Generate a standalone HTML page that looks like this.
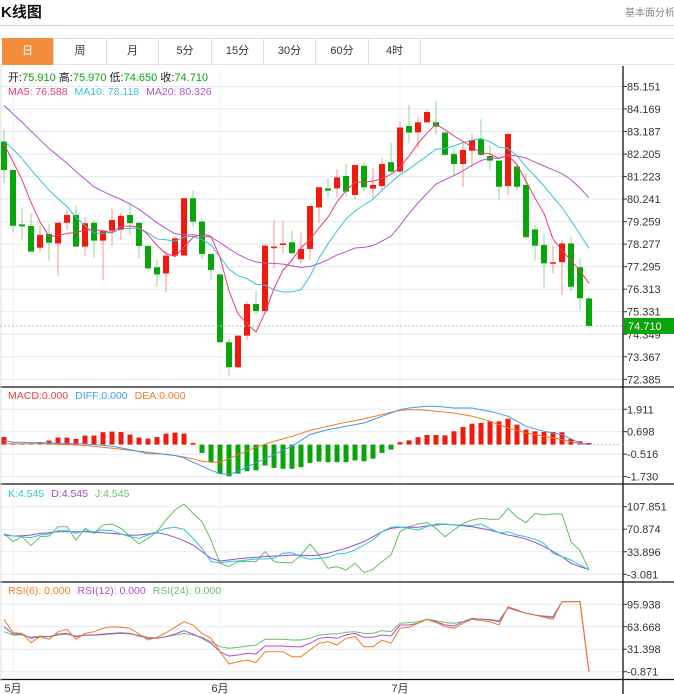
<!DOCTYPE html>
<html><head><meta charset="utf-8"><style>
body{margin:0;background:#fff;width:674px;height:694px;overflow:hidden;position:relative;font-family:"Liberation Sans","Noto Sans CJK SC",sans-serif}
.abs{position:absolute}
.tab{position:absolute;top:38px;height:27px;line-height:27px;text-align:center;font-size:11px;color:#333;border-right:1px solid #ddd;box-sizing:border-box}
</style></head><body>
<div class="abs" style="left:1px;top:1px;font-size:15px;font-weight:bold;color:#111">K线图</div>
<div class="abs" style="left:625px;top:4px;font-size:10px;color:#888;white-space:nowrap;width:49px;overflow:hidden">基本面分析&gt;</div>
<div class="abs" style="left:0;top:25px;width:674px;height:1px;background:#ccc"></div>
<div class="abs" style="left:0;top:38px;width:674px;height:27px;border-top:1px solid #ddd;border-bottom:1px solid #e4e4e4;box-sizing:border-box"></div>
<div class="tab" style="left:2px;width:52px;background:#f38d3e;color:#fff">日</div>
<div class="tab" style="left:54px;width:53px">周</div>
<div class="tab" style="left:107px;width:52px">月</div>
<div class="tab" style="left:159px;width:53px">5分</div>
<div class="tab" style="left:212px;width:52px">15分</div>
<div class="tab" style="left:264px;width:52px">30分</div>
<div class="tab" style="left:316px;width:53px">60分</div>
<div class="tab" style="left:369px;width:52px">4时</div>
<svg id="chart" class="abs" style="left:0;top:0" width="674" height="694"></svg>
<script>
const opens=[82.75,81.51,79.14,79.07,78.12,78.72,78.31,79.21,79.55,78.17,79.21,78.43,78.87,78.9,79.55,79.21,78.2,77.27,77.0,77.78,77.78,80.28,79.26,77.85,76.96,74.0,72.91,74.29,75.67,75.36,78.1,78.24,78.36,77.62,78.07,79.88,80.71,80.71,81.25,80.42,81.69,80.70,80.81,81.85,81.44,83.43,83.15,83.59,83.59,83.14,82.21,81.77,82.35,82.85,82.12,81.92,80.81,81.66,80.86,78.92,78.24,77.44,77.49,78.31,77.27,75.91];
const closes=[81.51,79.08,79.05,77.95,78.68,78.34,79.21,79.55,78.17,79.19,78.43,78.87,79.33,79.51,79.19,78.2,77.22,76.96,77.78,78.53,80.28,79.26,77.85,77.15,74.0,72.91,74.29,75.67,75.36,78.21,78.17,78.31,77.88,78.07,79.94,80.76,80.61,81.19,80.57,81.73,80.76,80.86,81.77,81.44,83.36,83.14,83.59,84.04,83.40,82.17,81.77,82.38,82.82,82.17,81.92,80.78,83.08,80.78,78.58,78.21,77.44,77.49,78.31,76.42,75.92,74.71];
const highs=[83.28,81.51,79.88,79.62,79.07,79.16,79.26,79.77,79.94,79.45,79.36,78.9,79.84,79.65,80.09,79.21,78.2,77.59,77.95,78.6,80.28,80.61,79.4,77.85,76.96,74.17,74.29,75.77,76.24,78.28,79.33,79.3,78.87,78.78,79.94,80.76,81.15,81.54,81.77,81.73,81.87,81.58,82.02,82.70,83.62,84.35,83.84,84.16,84.52,83.18,82.46,82.67,83.11,83.72,82.56,81.92,83.08,81.8,81.37,79.11,78.75,78.2,78.46,78.6,77.66,75.97];
const lows=[80.96,78.82,78.43,77.95,77.9,77.56,76.9,78.9,78.17,77.76,77.7,76.71,78.21,78.46,78.68,77.66,77.22,76.42,76.18,77.76,77.78,79.04,77.66,76.69,74.0,72.53,72.86,74.1,75.22,75.36,77.22,77.88,77.88,77.44,77.59,79.21,80.32,80.32,80.35,80.23,80.57,80.28,80.57,81.37,81.37,82.67,82.46,83.58,83.04,82.09,81.29,80.78,81.63,82.09,81.51,80.20,80.42,80.61,78.58,77.56,76.4,77.01,76.06,76.21,75.38,74.65];
const priorCloses=[86.5,86.2,85.8,86.3,85.9,85.6,86.0,85.5,85.7,85.25,82.8,83.0,82.9,83.1,82.8,82.9,83.0,82.9,82.9];
const priceTicks=[85.151,84.169,83.187,82.205,81.223,80.241,79.259,78.277,77.295,76.313,75.331,74.349,73.367,72.385];
const macdBars=[0.41,0.02,0.02,0.02,0.14,0.22,0.38,0.38,0.31,0.49,0.49,0.67,0.70,0.68,0.54,0.38,0.32,0.41,0.59,0.65,0.59,0.09,-0.45,-0.95,-1.58,-1.71,-1.57,-1.44,-1.39,-1.13,-1.26,-1.31,-1.31,-1.22,-0.99,-0.92,-0.95,-0.95,-0.95,-0.86,-0.9,-0.76,-0.45,-0.27,0.13,0.23,0.40,0.52,0.52,0.50,0.72,0.95,1.13,1.17,1.26,1.26,1.40,1.08,0.81,0.72,0.68,0.68,0.67,0.31,0.18,0.09];
const diffVals=[.22,.13,.13,.11,.11,.09,.07,.07,.05,.04,0,-.04,-.09,-.18,-.27,-.38,-.49,-.50,-.52,-.59,-.72,-.95,-1.17,-1.39,-1.57,-1.62,-1.44,-1.21,-.99,-.76,-.54,-.31,-.09,.23,.54,.68,.81,.9,.99,1.08,1.17,1.35,1.53,1.71,1.89,1.98,2.03,2.07,2.07,2.03,1.98,1.98,1.98,1.89,1.8,1.67,1.53,1.26,.99,.85,.72,.63,.54,.31,.09,0];
const deaVals=[.05,.05,.05,.05,.05,.04,.02,0,-.02,-.05,-.09,-.14,-.2,-.25,-.31,-.36,-.41,-.47,-.54,-.59,-.67,-.77,-.9,-.95,-.95,-.77,-.54,-.34,-.14,.02,.18,.31,.45,.61,.77,.88,.99,1.1,1.21,1.3,1.39,1.51,1.62,1.75,1.85,1.89,1.89,1.85,1.8,1.76,1.71,1.62,1.53,1.4,1.26,1.08,.9,.77,.63,.54,.45,.36,.27,.16,.05,0];
const macdTicks=[1.911,0.698,-0.516,-1.730];
const kVals=[63.0,59.8,58.7,57.0,61.4,63.0,68.5,68.5,64.1,68.5,66.9,69.6,68.5,63.0,58.7,55.9,61.4,66.9,72.3,74.0,70.7,55.9,39.5,17.7,16.0,17.7,18.8,20.4,22.0,22.0,23.1,31.3,32.4,25.9,21.5,23.1,24.8,30.2,31.3,36.8,45.0,53.2,66.9,74.0,75.1,72.3,69.6,75.1,79.4,79.4,77.8,77.8,76.7,79.4,72.3,65.2,66.9,61.4,58.7,54.3,47.7,31.3,25.9,20.4,12.2,4.5];
const dVals=[61.4,59.8,60.3,61.4,64.1,65.2,66.9,66.9,66.9,66.9,65.8,65.2,64.1,62.5,60.9,61.4,63.0,65.2,62.5,57.6,52.1,45.0,34.1,23.1,18.8,20.4,22.6,23.7,24.8,25.9,27.0,27.5,28.6,28.1,27.5,28.6,31.3,35.7,39.5,45.0,50.5,58.7,66.9,72.3,74.0,74.0,74.0,76.2,77.8,78.9,77.8,76.7,75.1,72.3,69.6,65.2,61.4,58.7,54.8,49.4,42.3,34.1,25.9,14.9,9.5,4.5];
const jVals=[64.1,50.5,58.7,43.9,58.7,59.8,75.1,75.1,53.2,72.3,64.1,77.8,79.4,72.3,59.8,46.6,55.9,66.9,86.0,102.4,112.2,96.9,83.3,53.2,14.9,9.5,17.7,17.7,17.7,34.1,17.7,16.0,16.0,28.6,46.6,28.6,6.7,9.5,4.0,14.9,-0.3,5.1,17.7,28.6,66.9,75.1,79.4,81.6,72.3,58.7,69.6,80.5,86.0,88.7,87.1,87.1,105.1,90.4,81.6,96.9,94.2,95.8,95.8,50.5,35.7,4.5];
const kdjTicks=[107.851,70.874,33.896,-3.081];
const rsi6=[74.4,55.2,54.2,40.8,49.4,45.6,56.6,60.0,45.6,54.2,56.6,61.4,63.8,62.9,61.4,53.3,44.6,48.5,55.2,62.9,71.0,66.2,54.2,47.1,27.9,10.1,13.5,15.9,12.1,27.9,27.9,27.9,20.7,20.7,30.3,39.9,42.2,37.5,47.1,49.4,35.1,35.1,44.6,39.9,61.4,62.9,68.6,74.4,69.6,63.8,61.4,68.6,74.4,72.5,71.0,66.2,92.6,87.8,83.0,80.6,77.3,74.4,99.8,99.8,99.8,-0.9];
const rsi12=[63.8,53.3,53.3,47.1,49.4,49.4,53.3,54.2,49.4,51.8,51.8,53.3,54.2,55.2,54.2,50.4,47.1,47.1,49.4,53.3,58.1,53.3,47.1,39.9,27.9,21.6,23.1,25.5,24.5,36.0,36.0,36.0,35.1,35.1,39.9,47.1,48.5,47.1,51.8,54.2,48.5,48.5,51.8,50.4,66.2,66.2,68.6,74.4,71.0,66.2,64.8,71.0,74.9,74.4,73.4,71.0,91.1,86.8,83.0,80.6,78.2,77.3,99.8,99.8,99.8,-0.9];
const rsi24=[56.6,51.8,51.8,48.5,50.4,49.4,51.8,52.8,50.4,51.4,51.4,52.3,53.3,54.2,53.3,51.4,48.5,47.5,49.4,51.8,54.2,51.8,48.5,42.2,35.1,32.7,34.1,36.0,37.5,45.6,45.6,45.6,44.6,44.6,47.1,51.8,53.3,53.3,55.7,56.6,54.2,54.2,58.1,56.6,68.6,69.6,71.0,74.4,72.5,69.6,68.6,71.0,75.8,74.4,74.4,72.5,91.1,86.8,83.0,80.6,79.2,78.2,99.8,99.8,99.8,-0.9];
const rsiTicks=[95.938,63.668,31.398,-0.871];
const monthLabels=["5月","6月","7月"];
const monthIdx=[1,24,44];

const NS="http://www.w3.org/2000/svg";
const svg=document.getElementById('chart');
function mk(tag,attrs,parent){const e=document.createElementNS(NS,tag);for(const k in attrs)e.setAttribute(k,attrs[k]);(parent||svg).appendChild(e);return e;}
const AX=623;
const xAt=i=>4+i*9;
const yPrice=v=>109+(84.169-v)*22.94;
const yMacd=v=>444.6-v*18.49;
const yKdj=v=>506.7+(107.851-v)/1.641;
const yRsi=v=>604.3+(95.938-v)*0.6962;
const RED="#f2190d",GREEN="#07a507";

// vertical month grid
monthIdx.forEach((m,k)=>{
  const g=mk('line',{x1:xAt(m),x2:xAt(m),y1:66,y2:680,stroke:'#eef2f6','stroke-width':1});
  
  
  const t=mk('text',{x:xAt(m),y:692,'font-size':11,fill:'#333','text-anchor':'middle'});
  t.textContent=monthLabels[k];
  
  
});
function ticks(arr,yf,name,fmt){
  arr.forEach(v=>{
    const y=yf(v);
    const l=mk('line',{x1:0,x2:AX,y1:y,y2:y,stroke:'#e3eaf1','stroke-width':1});
    
    
    mk('line',{x1:AX,x2:AX+4,y1:y,y2:y,stroke:'#333','stroke-width':1});
    const t=mk('text',{x:AX+4,y:y+4,'font-size':11,fill:'#333'});
    t.textContent=v.toFixed(3);
    
    
  });
}
ticks(priceTicks,yPrice,'price');
ticks(macdTicks,yMacd,'macd');
ticks(kdjTicks,yKdj,'kdj');
ticks(rsiTicks,yRsi,'rsi');

// pane borders
[[387,'main-pane-bottom'],[484,'macd-pane-bottom'],[582,'kdj-pane-bottom'],[679.5,'x-axis-line']].forEach(([y,n])=>{
  const l=mk('line',{x1:0,x2:674,y1:y,y2:y,stroke:'#111','stroke-width':1.3});
  
  
});
const ax=mk('line',{x1:AX,x2:AX,y1:66,y2:694,stroke:'#111','stroke-width':1.3});


mk('line',{x1:1,x2:1,y1:66,y2:680,stroke:'#ddd','stroke-width':1});

// candles
for(let i=0;i<closes.length;i++){
  const up=closes[i]>=opens[i];
  const c=up?RED:GREEN;
  const x=xAt(i);
  const w=mk('line',{x1:x,x2:x,y1:yPrice(highs[i]),y2:yPrice(lows[i]),stroke:c,'stroke-opacity':0.45,'stroke-width':1});
  
  
  const yt=yPrice(Math.max(opens[i],closes[i])),yb=yPrice(Math.min(opens[i],closes[i]));
  const b=mk('rect',{x:x-3,y:yt,width:6,height:Math.max(1.5,yb-yt),fill:c});
  
  
}
// MAs
const allC=priorCloses.concat(closes);
function ma(n){return closes.map((_,i)=>{const j=i+priorCloses.length;let s=0;for(let k=j-n+1;k<=j;k++)s+=allC[k];return s/n;});}
function line(vals,yf,color,name,xStart){
  const pts=vals.map((v,i)=>xAt(i).toFixed(1)+','+yf(v).toFixed(1)).join(' ');
  const p=mk('polyline',{points:pts,fill:'none',stroke:color,'stroke-width':1});
  
  
}
line(ma(20),yPrice,'#b455c9','ma20-line');
line(ma(10),yPrice,'#36c2dc','ma10-line');
line(ma(5),yPrice,'#ee3a72','ma5-line');

// last price
const lastY=yPrice(closes[closes.length-1]);
const dl=mk('line',{x1:0,x2:AX,y1:lastY,y2:lastY,stroke:'#9ad89a','stroke-width':1,'stroke-dasharray':'2,2'});


const lb=mk('rect',{x:AX+1,y:lastY-8,width:51,height:16,fill:'#07a507'});


const lt=mk('text',{x:AX+5,y:lastY+4,'font-size':11,fill:'#fff'});
lt.textContent=closes[closes.length-1].toFixed(3);

// MACD
for(let i=0;i<macdBars.length;i++){
  const v=macdBars[i];const y0=yMacd(0),y1=yMacd(v);
  const r=mk('rect',{x:xAt(i)-2.5,y:Math.min(y0,y1),width:5,height:Math.max(0.5,Math.abs(y1-y0)),fill:v>=0?RED:GREEN});
  
  
}
mk('line',{x1:xAt(macdBars.length-1),x2:AX,y1:yMacd(0),y2:yMacd(0),stroke:'#9cc9ee','stroke-dasharray':'2,2'});
line(deaVals,yMacd,'#f5781e','dea-line');
line(diffVals,yMacd,'#3d9cf0','diff-line');
// KDJ
line(jVals,yKdj,'#64bf64','j-line');
line(dVals,yKdj,'#9050d0','d-line');
line(kVals,yKdj,'#2ec4dc','k-line');
// RSI
line(rsi24,yRsi,'#6abf6a','rsi24-line');
line(rsi12,yRsi,'#b04fcf','rsi12-line');
line(rsi6,yRsi,'#f5781e','rsi6-line');

// legends
function legend(y,items,name){
  const t=mk('text',{x:8,y:y,'font-size':10.5});
  
  
  items.forEach(([s,c],k)=>{const ts=mk('tspan',{fill:c},t);if(k>0)ts.setAttribute('dx','7');ts.textContent=s;});
}
const info=mk('text',{x:8,y:81,'font-size':11});


[['开:','#222'],['75.910',GREEN],[' 高:','#222'],['75.970',GREEN],[' 低:','#222'],['74.650',GREEN],[' 收:','#222'],['74.710',GREEN]].forEach(([s,c])=>{const ts=mk('tspan',{fill:c},info);ts.textContent=s;});
legend(95,[['MA5: 76.588','#ee3a72'],['MA10: 78.118','#36c2dc'],['MA20: 80.326','#b455c9']],'ma-legend');
legend(399,[['MACD:0.000','#f0403c'],['DIFF:0.000','#3d9cf0'],['DEA:0.000','#f5781e']],'macd-legend');
legend(497,[['K:4.545','#2ec4dc'],['D:4.545','#9050d0'],['J:4.545','#64bf64']],'kdj-legend');
legend(594,[['RSI(6): 0.000','#f5781e'],['RSI(12): 0.000','#b04fcf'],['RSI(24): 0.000','#6abf6a']],'rsi-legend');
</script>
</body></html>
